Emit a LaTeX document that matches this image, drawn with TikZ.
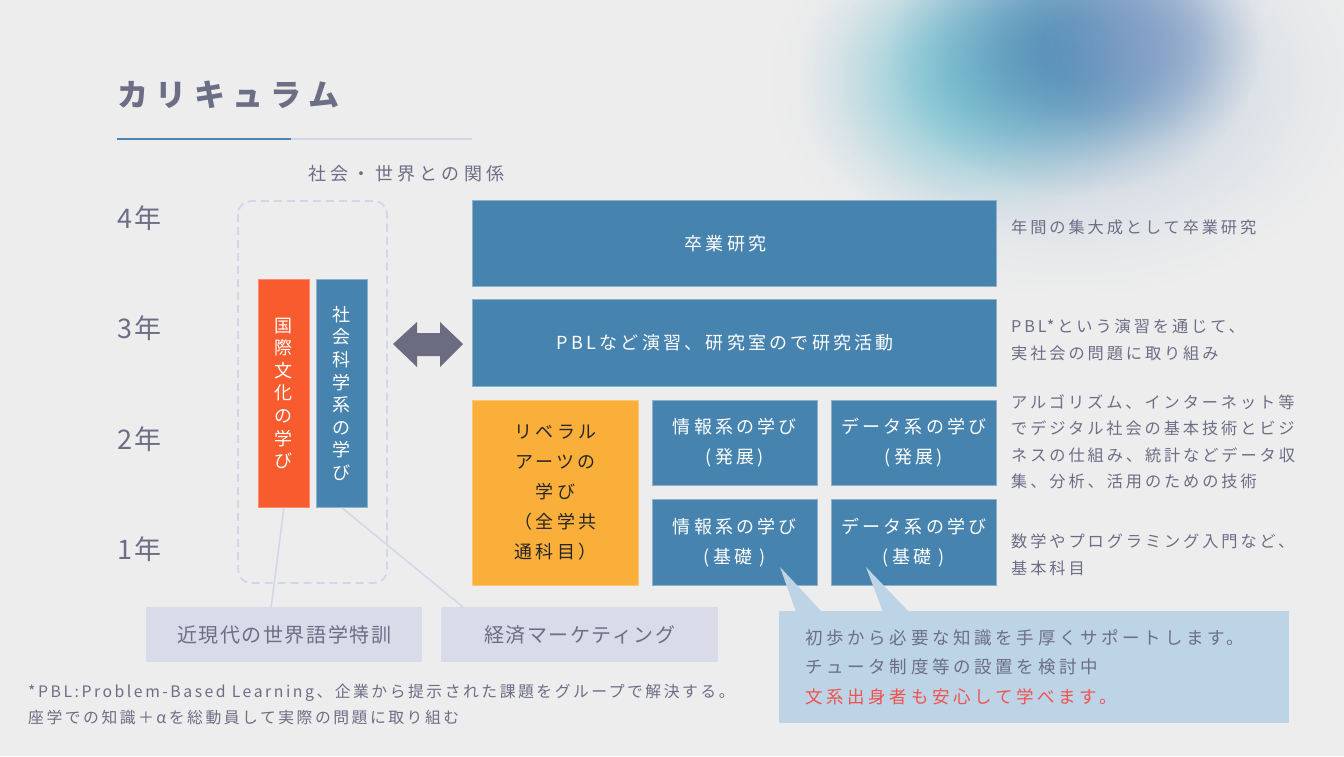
\documentclass[tikz,border=0pt]{standalone}
\usepackage{fontspec}
\usetikzlibrary{fadings}
\newfontfamily\jpA[LetterSpace=24]{Noto Sans CJK JP}
\newfontfamily\jpB[LetterSpace=18]{Noto Sans CJK JP}
\newfontfamily\jpC[LetterSpace=8]{Noto Sans CJK JP}
\newfontfamily\jpD[LetterSpace=16]{Noto Sans CJK JP}
\newfontfamily\jpE[LetterSpace=21]{Noto Sans CJK JP}
\definecolor{bg}{HTML}{EDEDED}
\definecolor{txt}{HTML}{6C6E86}
\definecolor{boxblue}{HTML}{4683AE}
\definecolor{boxedge}{HTML}{8DB0CC}
\definecolor{orng}{HTML}{F85B2E}
\definecolor{yell}{HTML}{FBAF3B}
\definecolor{lav}{HTML}{D9DBE8}
\definecolor{lavline}{HTML}{D3D6E8}
\definecolor{callc}{HTML}{BCD4E6}
\definecolor{redt}{HTML}{F2514D}
\definecolor{arrowc}{HTML}{6B6C82}
\definecolor{ulblue}{HTML}{4A86B5}
\definecolor{haze}{HTML}{C6D2E0}
\definecolor{tealb}{HTML}{86CCD6}
\definecolor{blueb}{HTML}{5690B9}
\definecolor{purpb}{HTML}{8E9FC9}
\pgfdeclareradialshading{blobsh}{\pgfpointorigin}{color(0bp)=(pgftransparent!0); color(5bp)=(pgftransparent!8); color(10bp)=(pgftransparent!30); color(15bp)=(pgftransparent!60); color(20bp)=(pgftransparent!85); color(25bp)=(pgftransparent!100); color(50bp)=(pgftransparent!100)}
\pgfdeclarefading{blobfade}{\pgfuseshading{blobsh}}
\begin{document}
\begin{tikzpicture}[x=1pt,y=-1pt,
  box/.style={draw=boxedge, line width=.8pt, inner sep=0pt, anchor=north west, align=center},
  bluebox/.style={box, fill=boxblue, text=white, font=\jpB\fontsize{18}{30}\selectfont},
  vbox/.style={box, text=white, minimum width=51pt, minimum height=228pt, font=\jpC\fontsize{18}{22.6}\selectfont},
  lavbox/.style={fill=lav, inner sep=0pt, anchor=north west, minimum height=55pt, text=txt, font=\jpC\fontsize{20}{24}\selectfont},
  desc/.style={anchor=west, align=left, inner sep=0pt, text=txt, font=\jpB\fontsize{16.2}{26.5}\selectfont},
  year/.style={anchor=west, inner sep=0pt, text=txt, font=\jpC\fontsize{27}{30}\selectfont},
  link/.style={draw=lavline, line width=1.5pt}]
\useasboundingbox (0,0) rectangle (1344,756);
\fill[bg] (0,0) rectangle (1344,756);
% soft blob
\fill[haze, path fading=blobfade] (1070,80) ellipse [x radius=300pt, y radius=215pt];
\fill[tealb, path fading=blobfade] (975,80) ellipse [x radius=175pt, y radius=150pt];
\fill[blueb, path fading=blobfade] (1075,50) ellipse [x radius=185pt, y radius=145pt];
\fill[purpb, path fading=blobfade, fill opacity=.6] (1145,40) ellipse [x radius=120pt, y radius=105pt];
% title
\node[anchor=west, inner sep=0pt, text=txt, font=\jpA\bfseries\fontsize{31}{34}\selectfont] (title) at (117,95) {カリキュラム};
\draw[lavline, line width=1.5pt] (291,139) -- (472,139);
\draw[ulblue, line width=2.5pt] (117,139) -- (291,139);
\node[anchor=west, inner sep=0pt, text=txt, font=\jpA\fontsize{18}{20}\selectfont] (rel) at (308,174) {社会・世界との関係};
% years
\node[year] (y4) at (117,218) {4年};
\node[year] (y3) at (117,328) {3年};
\node[year] (y2) at (117,439) {2年};
\node[year] (y1) at (117,549) {1年};
% dashed group
\draw[lavline, line width=1.8pt, dash pattern=on 8pt off 5pt, rounded corners=13pt] (238,201) rectangle (387,583);
\node[vbox, fill=orng, draw=orng!70!white] (kokusai) at (258,279) {国\\際\\文\\化\\の\\学\\び};
\node[vbox, fill=boxblue] (shakai) at (316,279) {社\\会\\科\\学\\系\\の\\学\\び};
% double arrow
\fill[arrowc] (393,344) -- (417,322) -- (417,333) -- (440,333) -- (440,322) -- (463,344) -- (440,367) -- (440,356) -- (417,356) -- (417,367) -- cycle;
% main boxes
\node[bluebox, minimum width=524pt, minimum height=86pt] (sotsu) at (472,200) {卒業研究\hspace*{18pt}};
\node[bluebox, minimum width=524pt, minimum height=87pt] (pbl) at (472,299) {PBLなど演習、研究室ので研究活動\hspace*{18pt}};
\node[box, fill=yell, draw=yell!70!white, text=black!85, minimum width=166pt, minimum height=185pt, font=\jpB\fontsize{18}{30}\selectfont] (lib) at (472,400) {リベラル\\アーツの\\学び\\（全学共\\通科目）};
\node[bluebox, minimum width=165pt, minimum height=85pt] (joho2) at (652,400) {情報系の学び\\(発展)};
\node[bluebox, minimum width=165pt, minimum height=85pt] (data2) at (831,400) {データ系の学び\\(発展)};
\node[bluebox, minimum width=165pt, minimum height=86pt] (joho1) at (652,499) {情報系の学び\\(基礎 )};
\node[bluebox, minimum width=165pt, minimum height=86pt] (data1) at (831,499) {データ系の学び\\(基礎 )};
% descriptions
\node[desc] (d4) at (1011,227) {年間の集大成として卒業研究};
\node[desc] (d3) at (1011,340) {PBL*という演習を通じて、\\実社会の問題に取り組み};
\node[desc] (d2) at (1011,442) {アルゴリズム、インターネット等\\でデジタル社会の基本技術とビジ\\ネスの仕組み、統計などデータ収\\集、分析、活用のための技術};
\node[desc] (d1) at (1011,555) {数学やプログラミング入門など、\\基本科目};
% lower boxes
\node[lavbox, minimum width=276pt] (kingendai) at (146,607) {近現代の世界語学特訓};
\node[lavbox, minimum width=277pt] (keizai) at (441,607) {経済マーケティング};
\draw[link] (kokusai.south) -- ([xshift=-13pt]kingendai.north);
\draw[link] (shakai.south) -- ([xshift=22pt]keizai.north west);
% footnote
\node[anchor=west, align=left, inner sep=0pt, text=txt, font=\jpD\fontsize{15.8}{26}\selectfont] (foot) at (28,704) {*PBL:Problem-Based Learning、企業から提示された課題をグループで解決する。\\座学での知識＋αを総動員して実際の問題に取り組む};
% callout
\node[fill=callc, anchor=north west, minimum width=510pt, minimum height=112pt, text width=458pt, inner xsep=26pt, inner ysep=0pt, align=left, text=txt, font=\jpE\fontsize{17.5}{29.5}\selectfont] (call) at (779,611) {初歩から必要な知識を手厚くサポートします。\\チュータ制度等の設置を検討中\\\textcolor{redt}{文系出身者も安心して学べます。}};
\coordinate (t1) at (780,567);
\coordinate (t2) at (866,567);
\fill[callc] (t1) -- (796,612) -- (822,612) -- cycle;
\fill[callc] (t2) -- (883,612) -- (909,612) -- cycle;
\end{tikzpicture}
\end{document}
